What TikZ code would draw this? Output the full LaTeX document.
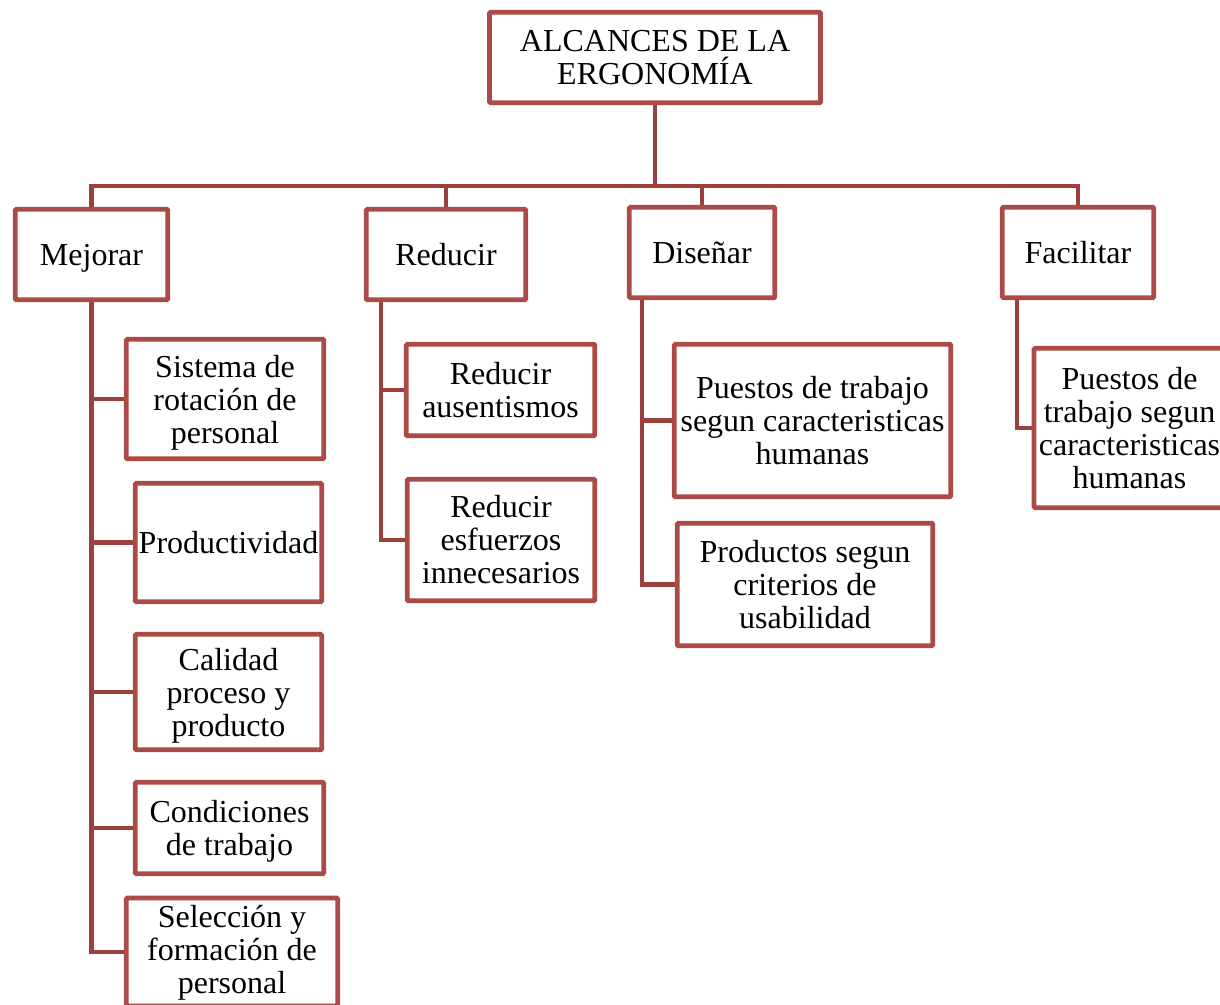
\documentclass[tikz,border=0pt]{standalone}
\usepackage{fontspec}
\setmainfont{Liberation Serif}
\usetikzlibrary{calc,backgrounds}
\definecolor{boxred}{RGB}{172,74,72}
\definecolor{linered}{RGB}{156,64,62}
\tikzset{
  box/.style={draw=boxred, line width=4.6pt, fill=white, inner sep=0pt,
    align=center, rounded corners=1pt,
    font=\fontsize{32}{33}\selectfont},
  oneline/.style={text height=24pt, text depth=3pt},
  flatbase/.style={text depth=0pt},
  conn/.style={draw=linered, line width=4.6pt},
}
\begin{document}
\begin{tikzpicture}[x=1pt,y=-1pt]
\useasboundingbox (0,0) rectangle (1220,1004);
\clip (0,0) rectangle (1220,1004);

% root and first level
\node[box, minimum width=331pt, minimum height=90.5pt] (top) at (655,57.5) {ALCANCES DE LA\\ERGONOMÍA};
\node[box, oneline, minimum width=152.5pt, minimum height=90.5pt] (mej) at (91.5,254.5) {Mejorar};
\node[box, oneline, minimum width=159.5pt, minimum height=90.5pt] (red) at (446,254.5) {Reducir};
\node[box, oneline, minimum width=145.5pt, minimum height=90.5pt] (dis) at (702,252.5) {Diseñar};
\node[box, oneline, minimum width=151.5pt, minimum height=90.5pt] (fac) at (1078,252.5) {Facilitar};

% second level: Mejorar
\node[box, flatbase, minimum width=197.5pt, minimum height=119.5pt] (m1) at (225,399) {Sistema de\\rotación de\\personal};
\node[box, oneline, minimum width=186.5pt, minimum height=118.5pt] (m2) at (228.5,542.5) {Productividad};
\node[box, flatbase, minimum width=186.5pt, minimum height=115.5pt] (m3) at (228.5,692) {Calidad\\proceso y\\producto};
\node[box, flatbase, minimum width=188.5pt, minimum height=91.5pt] (m4) at (229.5,828) {Condiciones\\de trabajo};
\node[box, text depth=5pt, minimum width=211.5pt, minimum height=108pt] (m5) at (232,952) {Selección y\\formación de\\personal};

% second level: Reducir
\node[box, minimum width=188.5pt, minimum height=91.5pt] (r1) at (500.5,390) {Reducir\\ausentismos};
\node[box, minimum width=187.5pt, minimum height=121.5pt] (r2) at (501,540) {Reducir\\esfuerzos\\innecesarios};

% second level: Diseñar
\node[box, minimum width=276.5pt, minimum height=152.5pt] (d1) at (812.5,420.5) {Puestos de trabajo\\segun caracteristicas\\humanas};
\node[box, minimum width=255.5pt, minimum height=122.5pt] (d2) at (805,584.5) {Productos segun\\criterios de\\usabilidad};

% second level: Facilitar
\node[box, minimum width=191pt, minimum height=159.5pt] (f1) at (1129.5,428) {Puestos de\\trabajo segun\\caracteristicas\\humanas};

\begin{scope}[on background layer]
  \fill[white] (0,0) rectangle (1220,1004);

  % horizontal bar joining the root to the first level
  \coordinate (bar) at (655,186);
  \draw[conn] (top.south) -- (bar);
  \draw[conn] (mej.north) |- (fac.north |- bar) -- (fac.north);
  \draw[conn] (red.north) -- (red.north |- bar);
  \draw[conn] (dis.north) -- (dis.north |- bar);

  % trunks below the first-level boxes
  \coordinate (rt) at ($(red.south west)+(17,0)$);
  \coordinate (dt) at ($(dis.south west)+(15,0)$);
  \coordinate (ft) at ($(fac.south west)+(17,0)$);

  \foreach \c in {m1,m2,m3,m4,m5} \draw[conn] (mej.south) |- (\c.west);
  \foreach \c in {r1,r2} \draw[conn] (rt) |- (\c.west);
  \foreach \c in {d1,d2} \draw[conn] (dt) |- (\c.west);
  \draw[conn] (ft) |- (f1.west);
\end{scope}
\end{tikzpicture}
\end{document}
